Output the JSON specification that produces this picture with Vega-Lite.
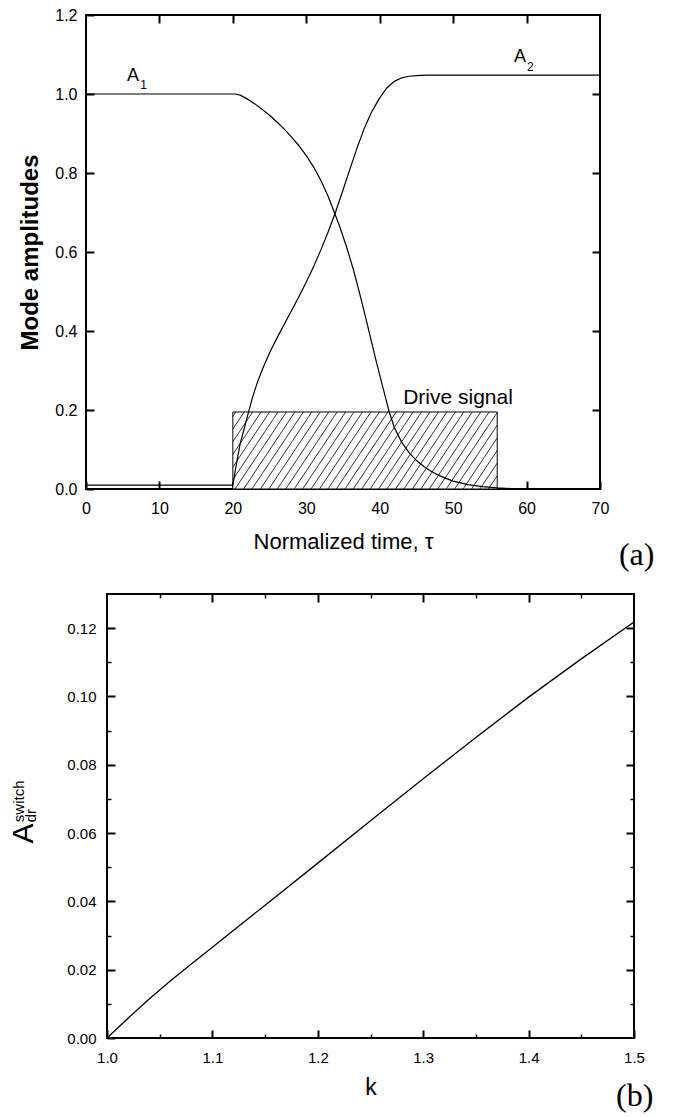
{
  "$schema": "https://vega.github.io/schema/vega-lite/v6.json",
  "padding": {"left": 0, "top": 6, "right": 0, "bottom": 0},
  "background": "white",
  "config": {
    "view": {"stroke": "black", "strokeWidth": 2},
    "font": "Liberation Sans",
    "axis": {"domain": false, "grid": false, "tickColor": "black", "tickWidth": 2, "labelColor": "black", "titleColor": "black", "labelFont": "Liberation Sans", "titleFont": "Liberation Sans", "labelFlush": false, "labelOverlap": false, "titleFontWeight": "normal"},
    "text": {"font": "Liberation Sans", "color": "black"}
  },
  "datasets": {
    "drive": [{"t0": 20, "t1": 56, "a0": 0, "a1": 0.195}],
    "hatch": [
      {"t0": 20, "a0": 0.1839, "t1": 20.4, "a1": 0.195},
      {"t0": 20, "a0": 0.1518, "t1": 21.55, "a1": 0.195},
      {"t0": 20, "a0": 0.1198, "t1": 22.7, "a1": 0.195},
      {"t0": 20, "a0": 0.0877, "t1": 23.85, "a1": 0.195},
      {"t0": 20, "a0": 0.0557, "t1": 25.0, "a1": 0.195},
      {"t0": 20, "a0": 0.0237, "t1": 26.15, "a1": 0.195},
      {"t0": 20.3, "a0": 0, "t1": 27.3, "a1": 0.195},
      {"t0": 21.45, "a0": 0, "t1": 28.45, "a1": 0.195},
      {"t0": 22.6, "a0": 0, "t1": 29.6, "a1": 0.195},
      {"t0": 23.75, "a0": 0, "t1": 30.75, "a1": 0.195},
      {"t0": 24.9, "a0": 0, "t1": 31.9, "a1": 0.195},
      {"t0": 26.05, "a0": 0, "t1": 33.05, "a1": 0.195},
      {"t0": 27.2, "a0": 0, "t1": 34.2, "a1": 0.195},
      {"t0": 28.35, "a0": 0, "t1": 35.35, "a1": 0.195},
      {"t0": 29.5, "a0": 0, "t1": 36.5, "a1": 0.195},
      {"t0": 30.65, "a0": 0, "t1": 37.65, "a1": 0.195},
      {"t0": 31.8, "a0": 0, "t1": 38.8, "a1": 0.195},
      {"t0": 32.95, "a0": 0, "t1": 39.95, "a1": 0.195},
      {"t0": 34.1, "a0": 0, "t1": 41.1, "a1": 0.195},
      {"t0": 35.25, "a0": 0, "t1": 42.25, "a1": 0.195},
      {"t0": 36.4, "a0": 0, "t1": 43.4, "a1": 0.195},
      {"t0": 37.55, "a0": 0, "t1": 44.55, "a1": 0.195},
      {"t0": 38.7, "a0": 0, "t1": 45.7, "a1": 0.195},
      {"t0": 39.85, "a0": 0, "t1": 46.85, "a1": 0.195},
      {"t0": 41.0, "a0": 0, "t1": 48.0, "a1": 0.195},
      {"t0": 42.15, "a0": 0, "t1": 49.15, "a1": 0.195},
      {"t0": 43.3, "a0": 0, "t1": 50.3, "a1": 0.195},
      {"t0": 44.45, "a0": 0, "t1": 51.45, "a1": 0.195},
      {"t0": 45.6, "a0": 0, "t1": 52.6, "a1": 0.195},
      {"t0": 46.75, "a0": 0, "t1": 53.75, "a1": 0.195},
      {"t0": 47.9, "a0": 0, "t1": 54.9, "a1": 0.195},
      {"t0": 49.05, "a0": 0, "t1": 56, "a1": 0.1936},
      {"t0": 50.2, "a0": 0, "t1": 56, "a1": 0.1616},
      {"t0": 51.35, "a0": 0, "t1": 56, "a1": 0.1295},
      {"t0": 52.5, "a0": 0, "t1": 56, "a1": 0.0975},
      {"t0": 53.65, "a0": 0, "t1": 56, "a1": 0.0655},
      {"t0": 54.8, "a0": 0, "t1": 56, "a1": 0.0334}
    ],
    "modes": [
      {"mode": "A1", "t": 0, "a": 1.0}, {"mode": "A1", "t": 20.3, "a": 1.0}, {"mode": "A1", "t": 21, "a": 0.997},
      {"mode": "A1", "t": 22, "a": 0.987}, {"mode": "A1", "t": 23, "a": 0.975}, {"mode": "A1", "t": 24, "a": 0.961},
      {"mode": "A1", "t": 25, "a": 0.946}, {"mode": "A1", "t": 26, "a": 0.929}, {"mode": "A1", "t": 27, "a": 0.911},
      {"mode": "A1", "t": 28, "a": 0.891}, {"mode": "A1", "t": 29, "a": 0.869}, {"mode": "A1", "t": 30, "a": 0.844},
      {"mode": "A1", "t": 31, "a": 0.815}, {"mode": "A1", "t": 32, "a": 0.781}, {"mode": "A1", "t": 33, "a": 0.74},
      {"mode": "A1", "t": 33.5, "a": 0.716}, {"mode": "A1", "t": 34.5, "a": 0.667}, {"mode": "A1", "t": 35.5, "a": 0.612},
      {"mode": "A1", "t": 36.5, "a": 0.55}, {"mode": "A1", "t": 37.5, "a": 0.478}, {"mode": "A1", "t": 38.5, "a": 0.402},
      {"mode": "A1", "t": 39.5, "a": 0.325}, {"mode": "A1", "t": 40.5, "a": 0.252}, {"mode": "A1", "t": 41.3, "a": 0.195},
      {"mode": "A1", "t": 42, "a": 0.155}, {"mode": "A1", "t": 43, "a": 0.118}, {"mode": "A1", "t": 44, "a": 0.092},
      {"mode": "A1", "t": 45, "a": 0.072}, {"mode": "A1", "t": 46, "a": 0.057}, {"mode": "A1", "t": 47, "a": 0.045},
      {"mode": "A1", "t": 48, "a": 0.035}, {"mode": "A1", "t": 49, "a": 0.027}, {"mode": "A1", "t": 50, "a": 0.02},
      {"mode": "A1", "t": 52, "a": 0.011}, {"mode": "A1", "t": 54, "a": 0.006}, {"mode": "A1", "t": 56, "a": 0.003},
      {"mode": "A1", "t": 58, "a": 0.001}, {"mode": "A1", "t": 60, "a": 0.0}, {"mode": "A1", "t": 70, "a": 0.0},
      {"mode": "A2", "t": 0, "a": 0.01}, {"mode": "A2", "t": 20, "a": 0.01}, {"mode": "A2", "t": 20.15, "a": 0.025},
      {"mode": "A2", "t": 20.4, "a": 0.055}, {"mode": "A2", "t": 20.7, "a": 0.085}, {"mode": "A2", "t": 21.0, "a": 0.115},
      {"mode": "A2", "t": 21.5, "a": 0.15}, {"mode": "A2", "t": 22.0, "a": 0.185}, {"mode": "A2", "t": 22.6, "a": 0.227},
      {"mode": "A2", "t": 23.3, "a": 0.268}, {"mode": "A2", "t": 24.0, "a": 0.302}, {"mode": "A2", "t": 25.0, "a": 0.345},
      {"mode": "A2", "t": 26.0, "a": 0.382}, {"mode": "A2", "t": 27.0, "a": 0.417}, {"mode": "A2", "t": 28.0, "a": 0.452},
      {"mode": "A2", "t": 29.0, "a": 0.487}, {"mode": "A2", "t": 30.0, "a": 0.524}, {"mode": "A2", "t": 31.0, "a": 0.563},
      {"mode": "A2", "t": 32.0, "a": 0.606}, {"mode": "A2", "t": 33.0, "a": 0.652}, {"mode": "A2", "t": 34.0, "a": 0.702},
      {"mode": "A2", "t": 35.0, "a": 0.757}, {"mode": "A2", "t": 36.0, "a": 0.813}, {"mode": "A2", "t": 37.0, "a": 0.868},
      {"mode": "A2", "t": 38.0, "a": 0.918}, {"mode": "A2", "t": 39.0, "a": 0.958}, {"mode": "A2", "t": 40.0, "a": 0.99},
      {"mode": "A2", "t": 41.0, "a": 1.016}, {"mode": "A2", "t": 42.0, "a": 1.032}, {"mode": "A2", "t": 43.0, "a": 1.041},
      {"mode": "A2", "t": 44.0, "a": 1.045}, {"mode": "A2", "t": 45.5, "a": 1.047}, {"mode": "A2", "t": 47.0, "a": 1.048},
      {"mode": "A2", "t": 70, "a": 1.048}
    ],
    "labelsA_main": [{"label": "A", "t": 6.4, "a": 1.033}, {"label": "A", "t": 59.1, "a": 1.081}],
    "labelsA_sub": [{"label": "1", "t": 7.83, "a": 1.013}, {"label": "2", "t": 60.53, "a": 1.058}],
    "labelsA_drive": [{"label": "Drive signal", "t": 50.66, "a": 0.2144}],
    "panelA_tag": [{"label": "(a)", "t": 75.0, "a": -0.1916}],
    "switchCurve": [
      {"k": 1.0, "v": 0.0}, {"k": 1.02, "v": 0.0058}, {"k": 1.04, "v": 0.0114}, {"k": 1.06, "v": 0.0167},
      {"k": 1.08, "v": 0.0217}, {"k": 1.1, "v": 0.0266}, {"k": 1.15, "v": 0.0389}, {"k": 1.2, "v": 0.0512},
      {"k": 1.25, "v": 0.0636}, {"k": 1.3, "v": 0.0759}, {"k": 1.35, "v": 0.088}, {"k": 1.4, "v": 0.0998},
      {"k": 1.45, "v": 0.111}, {"k": 1.5, "v": 0.1218}
    ],
    "ytitleB_main": [{"label": "A", "k": 0.9216, "v": 0.0599}],
    "ytitleB_sub": [{"label": "dr", "k": 0.9279, "v": 0.0651}],
    "ytitleB_sup": [{"label": "switch", "k": 0.9164, "v": 0.0693}],
    "panelB_tag": [{"label": "(b)", "k": 1.5006, "v": -0.01996}],
    "spacer": [{"s": 0}]
  },
  "spacing": 20,
  "vconcat": [
    {
      "spacing": 0,
      "hconcat": [
        {"width": 17, "height": 2, "data": {"name": "spacer"}, "mark": {"type": "rect", "opacity": 0}, "view": {"stroke": null}},
        {
          "width": 514,
          "height": 474,
          "layer": [
            {
              "data": {"name": "drive"},
              "mark": {"type": "rect", "fill": "white", "stroke": "black", "strokeWidth": 1},
              "encoding": {
                "x": {"field": "t0", "type": "quantitative", "scale": {"domain": [0, 70]}, "axis": null},
                "x2": {"field": "t1"},
                "y": {"field": "a0", "type": "quantitative", "scale": {"domain": [0, 1.2]}, "axis": null},
                "y2": {"field": "a1"}
              }
            },
            {
              "data": {"name": "hatch"},
              "mark": {"type": "rule", "color": "black", "strokeWidth": 0.8},
              "encoding": {
                "x": {"field": "t0", "type": "quantitative", "scale": {"domain": [0, 70]}, "axis": {"orient": "top", "values": [10, 20, 30, 40, 50, 60], "labels": false, "offset": -8, "tickSize": 8, "title": null}},
                "x2": {"field": "t1"},
                "y": {"field": "a0", "type": "quantitative", "scale": {"domain": [0, 1.2]}, "axis": {"orient": "right", "values": [0.2, 0.4, 0.6, 0.8, 1.0], "labels": false, "offset": -8, "tickSize": 8, "title": null}},
                "y2": {"field": "a1"}
              }
            },
            {
              "data": {"name": "modes"},
              "mark": {"type": "line", "color": "black", "strokeWidth": 1.2},
              "encoding": {
                "x": {"field": "t", "type": "quantitative", "scale": {"domain": [0, 70]}, "axis": {"orient": "bottom", "values": [0, 10, 20, 30, 40, 50, 60, 70], "offset": -8, "tickSize": 8, "labelPadding": 11, "labelFontSize": 16, "title": "Normalized time, τ", "titleFontSize": 22, "titlePadding": 15}},
                "y": {"field": "a", "type": "quantitative", "scale": {"domain": [0, 1.2]}, "axis": {"orient": "left", "values": [0, 0.2, 0.4, 0.6, 0.8, 1.0, 1.2], "format": ".1f", "offset": -8, "tickSize": 8, "labelPadding": 9, "labelFontSize": 16, "title": "Mode amplitudes", "titleFontSize": 24, "titleFontWeight": "bold", "titlePadding": 12}},
                "detail": {"field": "mode"}
              }
            },
            {
              "data": {"name": "labelsA_main"},
              "mark": {"type": "text", "align": "center", "baseline": "alphabetic", "fontSize": 18},
              "encoding": {
                "x": {"field": "t", "type": "quantitative", "scale": {"domain": [0, 70]}, "axis": null},
                "y": {"field": "a", "type": "quantitative", "scale": {"domain": [0, 1.2]}, "axis": null},
                "text": {"field": "label"}
              }
            },
            {
              "data": {"name": "labelsA_sub"},
              "mark": {"type": "text", "align": "center", "baseline": "alphabetic", "fontSize": 12},
              "encoding": {
                "x": {"field": "t", "type": "quantitative", "scale": {"domain": [0, 70]}, "axis": null},
                "y": {"field": "a", "type": "quantitative", "scale": {"domain": [0, 1.2]}, "axis": null},
                "text": {"field": "label"}
              }
            },
            {
              "data": {"name": "labelsA_drive"},
              "mark": {"type": "text", "align": "center", "baseline": "alphabetic", "fontSize": 21},
              "encoding": {
                "x": {"field": "t", "type": "quantitative", "scale": {"domain": [0, 70]}, "axis": null},
                "y": {"field": "a", "type": "quantitative", "scale": {"domain": [0, 1.2]}, "axis": null},
                "text": {"field": "label"}
              }
            },
            {
              "data": {"name": "panelA_tag"},
              "mark": {"type": "text", "align": "center", "baseline": "alphabetic", "fontSize": 32, "font": "Liberation Serif"},
              "encoding": {
                "x": {"field": "t", "type": "quantitative", "scale": {"domain": [0, 70]}, "axis": null},
                "y": {"field": "a", "type": "quantitative", "scale": {"domain": [0, 1.2]}, "axis": null},
                "text": {"field": "label"}
              }
            }
          ],
          "resolve": {"axis": {"x": "independent", "y": "independent"}}
        }
      ]
    },
    {
      "spacing": 0,
      "hconcat": [
        {"width": 8, "height": 2, "data": {"name": "spacer"}, "mark": {"type": "rect", "opacity": 0}, "view": {"stroke": null}},
        {
          "width": 527,
          "height": 444,
          "layer": [
            {
              "data": {"name": "switchCurve"},
              "mark": {"type": "line", "color": "black", "strokeWidth": 1.3},
              "encoding": {
                "x": {"field": "k", "type": "quantitative", "scale": {"domain": [1.0, 1.5]}, "axis": {"orient": "bottom", "values": [1.0, 1.1, 1.2, 1.3, 1.4, 1.5], "format": ".1f", "offset": -8, "tickSize": 8, "labelPadding": 12, "labelFontSize": 15, "title": "k", "titleFontSize": 23, "titlePadding": 11}},
                "y": {"field": "v", "type": "quantitative", "scale": {"domain": [0, 0.13]}, "axis": {"orient": "left", "values": [0, 0.02, 0.04, 0.06, 0.08, 0.1, 0.12], "format": ".2f", "offset": -8, "tickSize": 8, "labelPadding": 11, "labelFontSize": 15, "title": null}}
              }
            },
            {
              "data": {"name": "switchCurve"},
              "mark": {"type": "line", "strokeOpacity": 0},
              "encoding": {
                "x": {"field": "k", "type": "quantitative", "scale": {"domain": [1.0, 1.5]}, "axis": {"orient": "top", "values": [1.1, 1.2, 1.3, 1.4], "labels": false, "offset": -8, "tickSize": 8, "title": null}},
                "y": {"field": "v", "type": "quantitative", "scale": {"domain": [0, 0.13]}, "axis": {"orient": "right", "values": [0.02, 0.04, 0.06, 0.08, 0.1, 0.12], "labels": false, "offset": -8, "tickSize": 8, "title": null}}
              }
            },
            {
              "data": {"name": "switchCurve"},
              "mark": {"type": "line", "strokeOpacity": 0},
              "encoding": {
                "x": {"field": "k", "type": "quantitative", "scale": {"domain": [1.0, 1.5]}, "axis": {"orient": "bottom", "values": [1.05, 1.15, 1.25, 1.35, 1.45], "labels": false, "offset": -4, "tickSize": 4, "tickWidth": 1.5, "title": null}},
                "y": {"field": "v", "type": "quantitative", "scale": {"domain": [0, 0.13]}, "axis": {"orient": "left", "values": [0.01, 0.03, 0.05, 0.07, 0.09, 0.11], "labels": false, "offset": -4, "tickSize": 4, "tickWidth": 1.5, "title": null}}
              }
            },
            {
              "data": {"name": "switchCurve"},
              "mark": {"type": "line", "strokeOpacity": 0},
              "encoding": {
                "x": {"field": "k", "type": "quantitative", "scale": {"domain": [1.0, 1.5]}, "axis": {"orient": "top", "values": [1.05, 1.15, 1.25, 1.35, 1.45], "labels": false, "offset": -4, "tickSize": 4, "tickWidth": 1.5, "title": null}},
                "y": {"field": "v", "type": "quantitative", "scale": {"domain": [0, 0.13]}, "axis": {"orient": "right", "values": [0.01, 0.03, 0.05, 0.07, 0.09, 0.11], "labels": false, "offset": -4, "tickSize": 4, "tickWidth": 1.5, "title": null}}
              }
            },
            {
              "data": {"name": "ytitleB_main"},
              "mark": {"type": "text", "align": "center", "baseline": "middle", "angle": 270, "fontSize": 30},
              "encoding": {
                "x": {"field": "k", "type": "quantitative", "scale": {"domain": [1.0, 1.5]}, "axis": null},
                "y": {"field": "v", "type": "quantitative", "scale": {"domain": [0, 0.13]}, "axis": null},
                "text": {"field": "label"}
              }
            },
            {
              "data": {"name": "ytitleB_sub"},
              "mark": {"type": "text", "align": "center", "baseline": "middle", "angle": 270, "fontSize": 15},
              "encoding": {
                "x": {"field": "k", "type": "quantitative", "scale": {"domain": [1.0, 1.5]}, "axis": null},
                "y": {"field": "v", "type": "quantitative", "scale": {"domain": [0, 0.13]}, "axis": null},
                "text": {"field": "label"}
              }
            },
            {
              "data": {"name": "ytitleB_sup"},
              "mark": {"type": "text", "align": "center", "baseline": "middle", "angle": 270, "fontSize": 15},
              "encoding": {
                "x": {"field": "k", "type": "quantitative", "scale": {"domain": [1.0, 1.5]}, "axis": null},
                "y": {"field": "v", "type": "quantitative", "scale": {"domain": [0, 0.13]}, "axis": null},
                "text": {"field": "label"}
              }
            },
            {
              "data": {"name": "panelB_tag"},
              "mark": {"type": "text", "align": "center", "baseline": "alphabetic", "fontSize": 32, "font": "Liberation Serif"},
              "encoding": {
                "x": {"field": "k", "type": "quantitative", "scale": {"domain": [1.0, 1.5]}, "axis": null},
                "y": {"field": "v", "type": "quantitative", "scale": {"domain": [0, 0.13]}, "axis": null},
                "text": {"field": "label"}
              }
            }
          ],
          "resolve": {"axis": {"x": "independent", "y": "independent"}}
        }
      ]
    }
  ]
}
